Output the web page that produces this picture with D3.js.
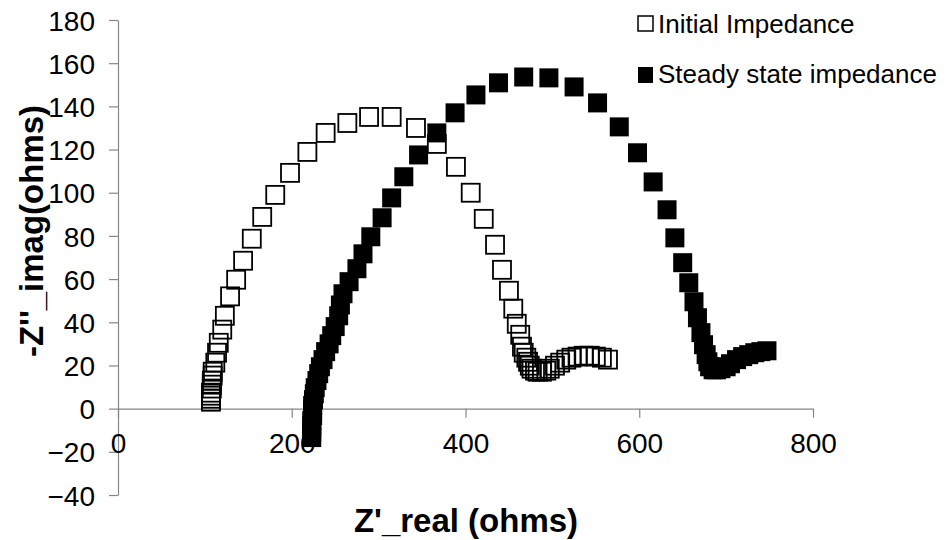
<!DOCTYPE html>
<html>
<head>
<meta charset="utf-8">
<script src="https://cdn.jsdelivr.net/npm/d3@7"></script>
<style>
  body { margin: 0; background: #fff; }
  svg { display: block; font-family: "Liberation Sans", Arial, sans-serif; }
  .axis path, .axis line { stroke: #868686; stroke-width: 1.2; }
  .axis text { font-size: 28px; fill: #000; }
  .title { font-size: 33px; font-weight: bold; fill: #000; }
  .legend text { font-size: 26px; fill: #000; }
</style>
</head>
<body>
<svg id="chart" width="947" height="540"></svg>
<script>
// Initial impedance (open squares)
const initialRe = [107, 107, 107, 107, 108, 108, 108, 109, 109, 112,
  114, 116, 120, 123, 129, 136, 144, 154, 166, 181,
  198, 218, 239, 264, 289, 315, 343, 367, 389, 406,
  421, 434, 442, 450, 455, 459, 463, 465, 467, 470,
  472, 474, 476, 480, 483, 488, 493, 497, 503, 509,
  516, 522, 529, 536, 543, 550, 557, 564];
const initialIm = [3.2, 4.6, 6.0, 7.4, 9.3, 11.1, 13.0, 15.3, 17.1, 21.3,
  25.9, 30.5, 36.6, 43.0, 52.0, 59.7, 68.5, 78.7, 88.8, 99.0,
  109.2, 118.9, 127.7, 132.3, 135.1, 135.1, 130.0, 122.6, 112.0, 100.0,
  87.9, 75.9, 64.3, 54.6, 46.3, 39.3, 34.2, 28.7, 25.9, 23.6,
  21.7, 19.9, 18.5, 17.6, 17.1, 17.1, 17.6, 18.5, 19.9, 21.3,
  22.7, 23.6, 24.1, 24.5, 24.5, 24.1, 23.6, 22.7];

// Steady state impedance (filled squares)
const steadyRe = [223, 223, 223, 223, 224, 224, 224, 225, 226, 227,
  229, 231, 233, 236, 239, 243, 246, 250, 254, 256,
  259, 266, 275, 282, 291, 304, 315, 329, 346, 367,
  388, 412, 438, 467, 496, 525, 552, 577, 598, 616,
  632, 641, 650, 657, 663, 667, 671, 674, 677, 679,
  681, 685, 689, 694, 700, 705, 712, 719, 726, 733,
  740, 747];
const steadyIm = [-13.4, -10.6, -7.9, -5.6, -3.2, -0.9, 1.4, 4.2, 6.9, 9.7,
  13.0, 16.2, 19.4, 22.7, 26.4, 30.0, 33.8, 38.0, 43.0, 48.0,
  53.2, 58.8, 64.8, 71.7, 79.6, 88.4, 97.6, 107.4, 117.5, 127.7,
  137.0, 145.3, 150.9, 153.6, 153.2, 149.0, 141.6, 130.5, 118.5, 105.0,
  92.1, 79.1, 67.6, 58.3, 49.5, 42.1, 35.2, 29.6, 25.0, 21.7,
  19.4, 18.0, 18.0, 18.5, 19.4, 20.8, 22.7, 24.1, 25.0, 25.9,
  26.4, 26.8];

const xTicks = [0, 200, 400, 600, 800];
const yTicks = [-40, -20, 0, 20, 40, 60, 80, 100, 120, 140, 160, 180];
const seriesNames = ["Initial Impedance", "Steady state impedance"];

const svg = d3.select("#chart");

const x = d3.scaleLinear().domain([0, 800]).range([118, 813]);
const y = d3.scaleLinear().domain([-40, 180]).range([495, 20]);

// y axis
const yAxis = svg.append("g")
  .attr("class", "axis")
  .attr("transform", `translate(${x(0)},0)`)
  .call(d3.axisLeft(y).tickValues(yTicks).tickSize(9).tickSizeOuter(0).tickPadding(14));
yAxis.selectAll("text").attr("dy", "0.36em");

// x axis sits on zero
const xAxis = svg.append("g")
  .attr("class", "axis")
  .attr("transform", `translate(0,${y(0)})`)
  .call(d3.axisBottom(x).tickValues(xTicks).tickSize(9).tickSizeOuter(0).tickPadding(15));

const size = 18;

// open markers
svg.append("g")
  .selectAll("rect")
  .data(initialRe.map((d, i) => [d, initialIm[i]]))
  .join("rect")
  .attr("x", (d) => x(d[0]) - size / 2)
  .attr("y", (d) => y(d[1]) - size / 2)
  .attr("width", size)
  .attr("height", size)
  .attr("fill", "none")
  .attr("stroke", "#000")
  .attr("stroke-width", 1.8);

// filled markers
svg.append("g")
  .selectAll("rect")
  .data(steadyRe.map((d, i) => [d, steadyIm[i]]))
  .join("rect")
  .attr("x", (d) => x(d[0]) - (size + 1) / 2)
  .attr("y", (d) => y(d[1]) - (size + 1) / 2)
  .attr("width", size + 1)
  .attr("height", size + 1)
  .attr("fill", "#000");

// axis titles
svg.append("text")
  .attr("class", "title")
  .attr("x", 466)
  .attr("y", 532)
  .attr("text-anchor", "middle")
  .text("Z'_real (ohms)");

svg.append("text")
  .attr("class", "title")
  .attr("transform", "translate(43,231) rotate(-90)")
  .attr("text-anchor", "middle")
  .text("-Z''_imag(ohms)");

// legend
const legend = svg.append("g").attr("class", "legend");
legend.append("rect")
  .attr("x", 638).attr("y", 16).attr("width", 15).attr("height", 15)
  .attr("fill", "none").attr("stroke", "#000").attr("stroke-width", 1.5);
legend.append("text").attr("x", 658).attr("y", 33).text(seriesNames[0]);
legend.append("rect")
  .attr("x", 638).attr("y", 67).attr("width", 15).attr("height", 16)
  .attr("fill", "#000");
legend.append("text").attr("x", 658).attr("y", 83).text(seriesNames[1]);
</script>
</body>
</html>
